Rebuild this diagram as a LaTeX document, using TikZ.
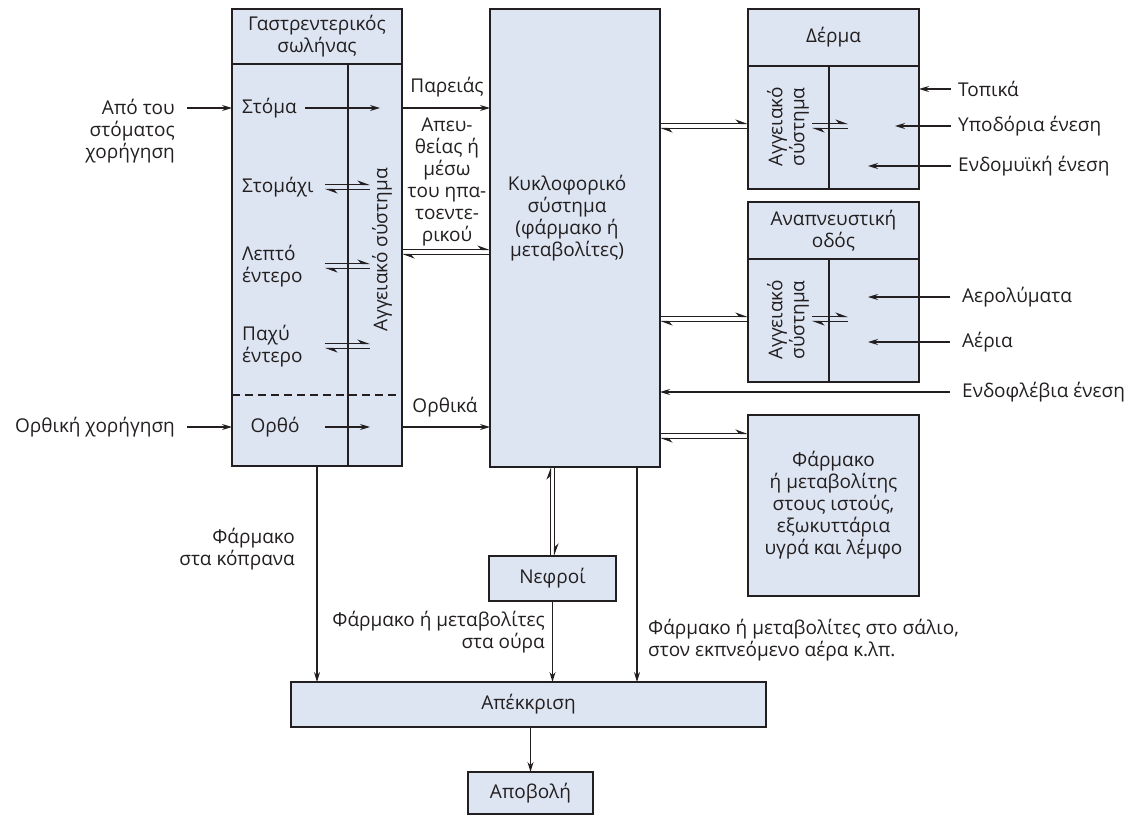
\documentclass[tikz,border=0pt]{standalone}
\usepackage{fontspec}
\setmainfont{Open Sans}
\usepackage{xcolor}
\usepackage{tikz}
\usetikzlibrary{arrows.meta, positioning}

\definecolor{boxblue}{RGB}{221,229,242}
\definecolor{linegray}{RGB}{35,31,32}

\begin{document}
\begin{tikzpicture}[x=1pt, y=-1pt, color=linegray, >={Stealth[length=10pt, width=6pt]},
  font=\fontsize{19}{22}\selectfont,
  box/.style={draw, fill=boxblue, line width=1.8pt, inner sep=0pt, outer sep=0pt, anchor=north west, align=center},
  lbl/.style={inner sep=0pt, align=center},
  bel/.style={->, line width=1.2pt},
  isor/.style={postaction={draw, line width=1.1pt, -{Stealth[harpoon, length=11pt, width=8pt]}, transform canvas={yshift=2.5pt}},
    postaction={draw, line width=1.1pt, {Stealth[harpoon, length=11pt, width=8pt]}-, transform canvas={yshift=-2.5pt}}},
  isorv/.style={postaction={draw, line width=1.1pt, -{Stealth[harpoon, length=11pt, width=8pt]}, transform canvas={xshift=2pt}},
    postaction={draw, line width=1.1pt, {Stealth[harpoon, length=11pt, width=8pt]}-, transform canvas={xshift=-2pt}}}]
\useasboundingbox (0,0) rectangle (1137,816);
% Κουτιά
\node[box, minimum width=170pt, minimum height=55pt] (gihead) at (232,9) {Γαστρεντερικός\\σωλήνας};
\node[box, minimum width=170pt, minimum height=402pt, below=0pt of gihead] (gibody) {};
\node[box, minimum width=170pt, minimum height=458pt] (kyk) at (490,9) {};
\node[box, minimum width=171pt, minimum height=57pt] (dermahead) at (748,9) {Δέρμα};
\node[box, minimum width=171pt, minimum height=123pt, below=0pt of dermahead] (dermabody) {};
\node[box, minimum width=171pt, minimum height=57pt] (anaphead) at (748,202) {Αναπνευστική\\οδός};
\node[box, minimum width=171pt, minimum height=123pt, below=0pt of anaphead] (anapbody) {};
\node[box, minimum width=171pt, minimum height=181pt] (istoi) at (748,415) {Φάρμακο\\ή μεταβολίτης\\στους ιστούς,\\εξωκυττάρια\\υγρά και λέμφο};
\node[box, minimum width=127pt, minimum height=45pt] (nefroi) at (489,556) {Νεφροί};
\node[box, minimum width=475pt, minimum height=45pt] (apek) at (291,682) {Απέκκριση};
\node[box, minimum width=125pt, minimum height=42pt] (apovoli) at (468,772) {Αποβολή};
% Γραμμές μέσα στα κουτιά
\draw[line width=1.3pt] ([xshift=116pt]gibody.north west) -- ([xshift=116pt]gibody.south west);
\draw[line width=1.2pt, dash pattern=on 8pt off 5pt] ([yshift=-331pt]gibody.north west) -- ([yshift=-331pt]gibody.north east);
\draw[line width=1.3pt] ([xshift=81pt]dermabody.north west) -- ([xshift=81pt]dermabody.south west);
\draw[line width=1.3pt] ([xshift=81pt]anapbody.north west) -- ([xshift=81pt]anapbody.south west);
% Κείμενα
\node[lbl] (kyktxt) at (567,218) {Κυκλοφορικό\\σύστημα\\(φάρμακο ή\\μεταβολίτες)};
\node[lbl, anchor=west] (stoma) at (242,108) {Στόμα};
\node[lbl, anchor=west] (stomachi) at (242,187) {Στομάχι};
\node[lbl, anchor=west, align=left] (lepto) at (242,266) {Λεπτό\\έντερο};
\node[lbl, anchor=west, align=left] (pachy) at (242,346) {Παχύ\\έντερο};
\node[lbl] (ortho) at (275,427) {Ορθό};
\node[lbl, rotate=90] (aggGI) at (382,250) {Αγγειακό σύστημα};
\node[lbl, rotate=90] (aggDerma) at (788,127) {Αγγειακό\\σύστημα};
\node[lbl, rotate=90] (aggAnap) at (788,320) {Αγγειακό\\σύστημα};
\node[lbl, anchor=north east, align=right] (apo) at (175,99) {Από του\\στόματος\\χορήγηση};
\node[lbl, anchor=east] (orthiki) at (175,427) {Ορθική χορήγηση};
\node[lbl] (pareias) at (447,87) {Παρειάς};
\node[lbl] (apeuth) at (447,182) {Απευ-\\θείας ή\\μέσω\\του ηπα-\\τοεντε-\\ρικού};
\node[lbl] (orthika) at (445,407) {Ορθικά};
\node[lbl, anchor=west] (topika) at (958,89) {Τοπικά};
\node[lbl, anchor=west] (ypod) at (958,126) {Υποδόρια ένεση};
\node[lbl, anchor=west] (endomy) at (958,166) {Ενδομυϊκή ένεση};
\node[lbl, anchor=west] (aerol) at (962,297) {Αερολύματα};
\node[lbl, anchor=west] (aeria) at (962,342) {Αέρια};
\node[lbl, anchor=west] (endofl) at (962,392) {Ενδοφλέβια ένεση};
\node[lbl, anchor=east, align=right] (kopr) at (295,549) {Φάρμακο\\στα κόπρανα};
\node[lbl, anchor=east, align=right] (oura) at (545,632) {Φάρμακο ή μεταβολίτες\\στα ούρα};
\node[lbl, anchor=west, align=left] (salio) at (648,640) {Φάρμακο ή μεταβολίτες στο σάλιο,\\στον εκπνεόμενο αέρα κ.λπ.};
% Σημεία
\coordinate (gvSL) at (305,0);
\coordinate (gvS) at (380,0);
\coordinate (gvHL) at (325,0);
\coordinate (gvH) at (370,0);
\coordinate (hpat) at (0,252);
\coordinate (dermaL) at (812,126);
\coordinate (dermaR) at (848,126);
\coordinate (anapL) at (812,319);
\coordinate (anapR) at (848,319);
\coordinate (dA) at (895,0);
\coordinate (dB) at (868,0);
\coordinate (istoiIn) at (748,436);
% Βέλη
\draw[bel, shorten <=12pt] (apo.east |- stoma) -- (stoma -| gibody.west);
\draw[bel, shorten <=12pt] (orthiki.east) -- (orthiki -| gibody.west);
\draw[bel] (stoma -| gvSL) -- (stoma -| gvS);
\path[isor] (stomachi -| gvHL) -- (stomachi -| gvH);
\path[isor] (lepto -| gvHL) -- (lepto -| gvH);
\path[isor] (pachy -| gvHL) -- (pachy -| gvH);
\draw[bel] (ortho -| gvHL) -- (ortho -| gvH);
\draw[bel] (stoma -| gibody.east) -- (stoma -| kyk.west);
\path[isor] (hpat -| gibody.east) -- (hpat -| kyk.west);
\draw[bel] (ortho -| gibody.east) -- (ortho -| kyk.west);
\path[isor] (dermaL -| kyk.east) -- (dermaL -| dermabody.west);
\path[isor] (anapL -| kyk.east) -- (anapL -| anapbody.west);
\path[isor] (istoiIn -| kyk.east) -- (istoiIn);
\path[isor] (dermaL) -- (dermaR);
\path[isor] (anapL) -- (anapR);
\draw[bel] ([xshift=-7pt]topika.west) -- (topika -| dermabody.east);
\draw[bel] ([xshift=-7pt]ypod.west) -- (ypod -| dA);
\draw[bel] ([xshift=-7pt]endomy.west) -- (endomy -| dB);
\draw[bel] ([xshift=-12pt]aerol.west) -- (aerol -| dB);
\draw[bel] ([xshift=-12pt]aeria.west) -- (aeria -| dB);
\draw[bel] ([xshift=-12pt]endofl.west) -- (endofl -| kyk.east);
\path[isorv] (nefroi.north |- kyk.south) -- (nefroi.north);
\draw[bel] (gibody.south) -- (gibody.south |- apek.north);
\draw[bel] (nefroi.south) -- (nefroi.south |- apek.north);
\draw[bel] ([xshift=-23pt]kyk.south east) -- ([xshift=-23pt]kyk.south east |- apek.north);
\draw[bel] (apovoli.north |- apek.south) -- (apovoli.north);
\end{tikzpicture}
\end{document}
